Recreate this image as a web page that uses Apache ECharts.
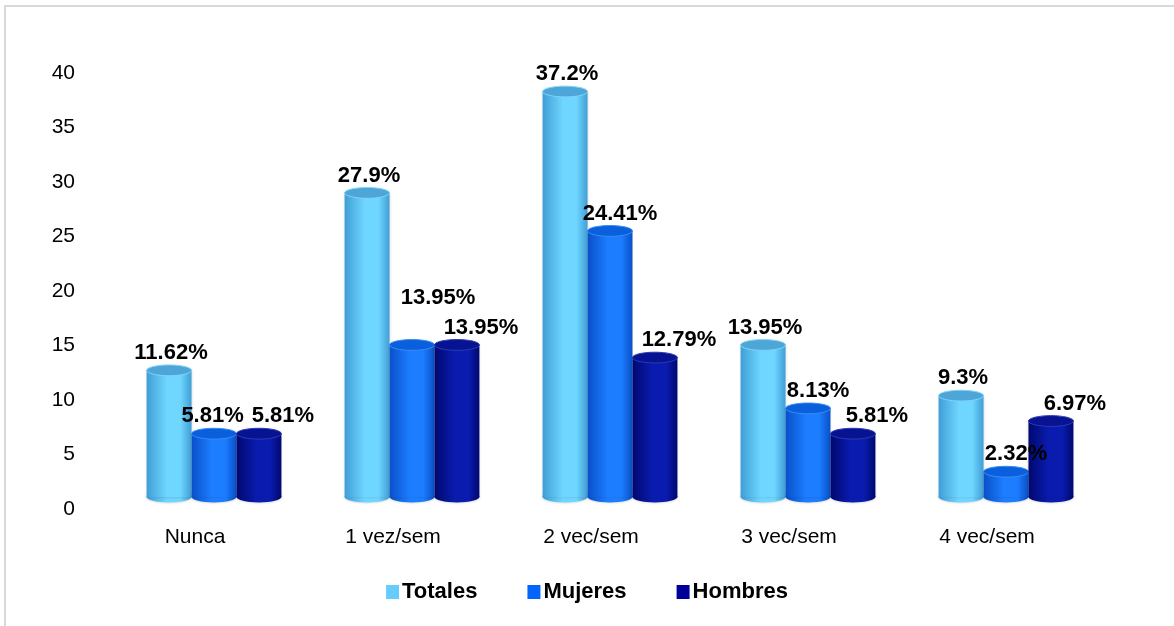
<!DOCTYPE html>
<html>
<head>
<meta charset="utf-8">
<script src="https://cdn.jsdelivr.net/npm/echarts@6/dist/echarts.min.js"></script>
<style>
  html, body { margin: 0; padding: 0; background: #fff; }
  #chart { width: 1174px; height: 626px; }
</style>
</head>
<body>
<div id="chart"></div>
<script>
// Frecuencia semanal: porcentaje por grupo
const categories = ['Nunca', '1 vez/sem', '2 vec/sem', '3 vec/sem', '4 vec/sem'];
const totales = [11.62, 27.9, 37.2, 13.95, 9.3];
const mujeres = [5.81, 13.95, 24.41, 8.13, 2.32];
const hombres = [5.81, 13.95, 12.79, 5.81, 6.97];
const seriesNames = ['Totales', 'Mujeres', 'Hombres'];

const FONT = "'Liberation Sans', Arial, sans-serif";
const LABEL_FONT = 'bold 22px ' + FONT;

// cylinder shading per series: legend colour, body gradient stops, cap colour
const looks = [
  { color: '#66CCFF', edge: '#3F9ED6', mid: '#6FD6FF', cap: '#4EA6D8', capRim: '#7FD4F8' },
  { color: '#0066FF', edge: '#0950C8', mid: '#1C7DFF', cap: '#0A5FDC', capRim: '#3A8BF5' },
  { color: '#000099', edge: '#00086E', mid: '#0A1CB0', cap: '#071390', capRim: '#2A3AB8' }
];
// label nudges per series (px, horizontal)
const labelShift = [2, 10, 24];
// 3D depth shift of the bars in front of the back wall
const DEPTH_X = 19, DEPTH_Y = -12;

const measureCtx = document.createElement('canvas').getContext('2d');
measureCtx.font = LABEL_FONT;
function textWidth(t) { return measureCtx.measureText(t).width; }

// geometry of one cylinder in pixel space
function geom(idx, cat, val, api) {
  const band = api.size([1, 0])[0];
  const w = band * 0.227;
  const top = api.coord([cat, val]);
  const base = api.coord([cat, 0]);
  return {
    w: w,
    cx: top[0] + DEPTH_X + (idx - 1) * w,
    yTop: top[1] + DEPTH_Y,
    yBase: base[1] + DEPTH_Y,
    rx: w / 2,
    ry: w * 0.12
  };
}

function cylinder(idx) {
  const look = looks[idx];
  return function (params, api) {
    const g = geom(idx, api.value(0), api.value(1), api);
    const body = {
      type: 'linear', x: 0, y: 0, x2: 1, y2: 0,
      colorStops: [
        { offset: 0, color: look.edge },
        { offset: 0.45, color: look.mid },
        { offset: 0.75, color: look.mid },
        { offset: 1, color: look.edge }
      ]
    };
    return {
      type: 'group',
      children: [
        { type: 'ellipse', shape: { cx: g.cx, cy: g.yBase, rx: g.rx, ry: g.ry },
          style: { fill: body, shadowBlur: 3, shadowColor: 'rgba(0,0,0,0.25)' } },
        { type: 'rect', shape: { x: g.cx - g.rx, y: g.yTop, width: g.w, height: g.yBase - g.yTop },
          style: { fill: body, shadowBlur: 3, shadowColor: 'rgba(0,0,0,0.2)' } },
        { type: 'ellipse', shape: { cx: g.cx, cy: g.yTop, rx: g.rx, ry: g.ry },
          style: { fill: look.cap, stroke: look.capRim, lineWidth: 1 } }
      ]
    };
  };
}

function valueLabel(idx) {
  return function (params, api) {
    const cat = api.value(0), val = api.value(1);
    const g = geom(idx, cat, val, api);
    const text = val + '%';
    let x = g.cx + labelShift[idx];
    let y = g.yTop - g.ry - 1;
    // a women's label that would run into the men's label next to it is
    // nudged left when a small step is enough, otherwise lifted a line
    if (idx === 1) {
      const hv = hombres[params.dataIndex];
      const h = geom(2, cat, hv, api);
      const gap = 8;
      const overlap = (x + textWidth(text) / 2) - (h.cx + labelShift[2] - textWidth(hv + '%') / 2) + gap;
      if (overlap > 0 && Math.abs(h.yTop - g.yTop) < 20) {
        if (overlap <= 20) {
          x -= overlap;
        } else {
          y -= 30;
          x += 16;
        }
      }
    }
    return {
      type: 'text',
      style: {
        text: text,
        x: x,
        y: y,
        align: 'center',
        verticalAlign: 'bottom',
        font: LABEL_FONT,
        fill: '#000'
      }
    };
  };
}

const valuesBySeries = [totales, mujeres, hombres];
function rows(i) {
  return categories.map(function (c, k) { return [k, valuesBySeries[i][k]]; });
}

const barSeries = seriesNames.map(function (name, i) {
  return {
    name: name,
    type: 'custom',
    renderItem: cylinder(i),
    itemStyle: { color: looks[i].color },
    encode: { x: 0, y: 1 },
    data: rows(i),
    z: 2 + i
  };
});
const labelSeries = seriesNames.map(function (name, i) {
  return {
    name: name + ' %',
    type: 'custom',
    renderItem: valueLabel(i),
    encode: { x: 0, y: 1 },
    data: rows(i),
    silent: true,
    z: 20
  };
});

const chart = echarts.init(document.getElementById('chart'));
chart.setOption({
  animation: false,
  backgroundColor: '#fff',
  graphic: [{
    type: 'rect', z: -10,
    shape: { x: 5, y: 6, width: 1260, height: 700 },
    style: { fill: 'none', stroke: '#D9D9D9', lineWidth: 2 }
  }],
  grid: { left: 96, right: 88, top: 73, bottom: 117 },
  legend: {
    bottom: 18,
    left: 'center',
    icon: 'rect',
    itemWidth: 13,
    itemHeight: 14,
    itemGap: 50,
    textStyle: { fontFamily: FONT, fontSize: 22, fontWeight: 'bold', color: '#000', padding: [0, 0, 0, -2] },
    data: seriesNames
  },
  xAxis: {
    type: 'category',
    data: categories,
    axisLine: { show: false },
    axisTick: { show: false },
    axisLabel: { fontFamily: FONT, fontSize: 21, color: '#000', margin: 18 }
  },
  yAxis: {
    type: 'value',
    min: 0, max: 40, interval: 5,
    splitLine: { show: false },
    axisLine: { show: false },
    axisTick: { show: false },
    axisLabel: { fontFamily: FONT, fontSize: 21, color: '#000', margin: 21 }
  },
  series: barSeries.concat(labelSeries)
});
</script>
</body>
</html>
